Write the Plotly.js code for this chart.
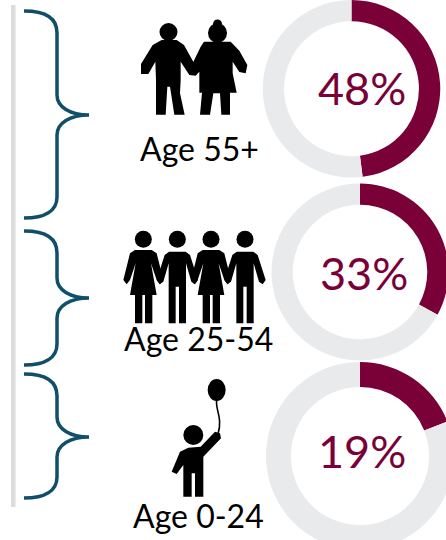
<!DOCTYPE html>
<html>
<head>
<meta charset="utf-8">
<script src="https://cdn.plot.ly/plotly-3.0.1.min.js"></script>
<style>html,body{margin:0;padding:0;background:#fff;overflow:hidden;width:446px;height:540px}#chart{position:absolute;left:0;top:0}</style>
</head>
<body>
<div id="chart"></div>
<script>
// Data
const ageGroups = ["Age 55+", "Age 25-54", "Age 0-24"];
const shares = [48, 33, 19];
const shareLabels = ["48%", "33%", "19%"];

// Styles
const MAROON = "#7a0038", RING = "#e9eaec", TEAL = "#0f4f69", RULE = "#dcdcdc", FONT = "Lato, sans-serif";
// Canvas is a little larger than the window because the lower rings run off its edge
const W = 480, H = 575;
const X = x => x / W, Y = y => 1 - y / H;
const rings = [
  {cx: 351.5, cy: 88.5, r: 89, hole: 0.76},
  {cx: 360, cy: 272, r: 88.5, hole: 0.76},
  {cx: 360, cy: 456, r: 94, hole: 0.735}
];
const shareText = [{x: 361.5, y: 88}, {x: 364, y: 273}, {x: 361.5, y: 451}];
const ageText = [{x: 199, y: 148}, {x: 198, y: 338}, {x: 198, y: 515}];

const traces = rings.map((g, i) => ({
  type: "pie", values: [shares[i], 100 - shares[i]], labels: [ageGroups[i], "Other"],
  sort: false, direction: "clockwise", rotation: 0, hole: g.hole,
  textinfo: "none", hoverinfo: "none", showlegend: false,
  marker: {colors: [MAROON, RING], line: {width: 0}},
  domain: {x: [X(g.cx - g.r), X(g.cx + g.r)], y: [Y(g.cy + g.r), Y(g.cy - g.r)]}
}));

// Path helpers: points in window pixels, or in zoom units (1/3 px) from an origin
const pathOf = pts => pts.map((p, i) => (i ? "L" : "M") + X(p[0]).toFixed(5) + "," + Y(p[1]).toFixed(5)).join(" ") + " Z";
const scaled = (pts, ox, oy) => pts.map(p => [ox + p[0] / 3, oy + p[1] / 3]);
const fillShape = d => ({type: "path", xref: "paper", yref: "paper", path: d, fillcolor: "#000", line: {width: 0}});
const ell = (cx, cy, rx, ry) => ({type: "circle", xref: "paper", yref: "paper", x0: X(cx - rx), x1: X(cx + rx), y0: Y(cy + ry), y1: Y(cy - ry), fillcolor: "#000", line: {width: 0}});

function bracket(t, m, b) {
  const c = (x, y) => X(x).toFixed(5) + "," + Y(y).toFixed(5);
  const d = "M" + c(24, t) + " C" + c(45, t) + " " + c(57, t + 7) + " " + c(57, t + 22) +
    " L" + c(57, m - 20) + " C" + c(57, m - 8) + " " + c(70, m) + " " + c(89, m) +
    " C" + c(70, m) + " " + c(57, m + 8) + " " + c(57, m + 20) +
    " L" + c(57, b - 21) + " C" + c(57, b - 7) + " " + c(45, b) + " " + c(24, b);
  return {type: "path", xref: "paper", yref: "paper", path: d, line: {color: TEAL, width: 3.5}};
}

const man4 = x => [[x-25,80],[x+25,80],[x+38,90],[x+62,165],[x+53,178],[x+42,170],[x+26,115],[x+26,295],[x+5,295],[x+5,185],[x-5,185],[x-5,295],[x-26,295],[x-26,115],[x-42,170],[x-53,178],[x-62,165],[x-38,90]];
const woman4 = x => [[x-25,75],[x+25,75],[x+40,85],[x+60,165],[x+50,178],[x+40,165],[x+23,115],[x+40,210],[x+27,210],[x+27,295],[x+5,295],[x+5,210],[x-3,210],[x-3,295],[x-25,295],[x-25,210],[x-40,210],[x-23,115],[x-40,165],[x-50,178],[x-60,165],[x-40,85]];

const oldMan = [[95,90],[140,90],[162,105],[197,168],[197,197],[178,195],[152,155],[152,210],[150,250],[164,314],[133,314],[120,230],[112,230],[107,314],[78,314],[78,210],[76,155],[55,192],[33,192],[33,162],[68,105]];
const oldWoman = [[222,95],[302,95],[328,122],[352,165],[347,190],[328,186],[308,155],[308,190],[320,248],[300,248],[300,314],[274,314],[270,250],[250,250],[240,314],[210,314],[216,248],[208,248],[208,185],[197,197],[183,170],[212,110]];
const child = [[165,170],[180,175],[183,190],[130,245],[130,365],[105,365],[105,295],[95,295],[95,365],[70,365],[70,270],[50,297],[35,290],[60,230],[85,218],[122,215]];

const shapes = [
  {type: "rect", xref: "paper", yref: "paper", x0: X(11), x1: X(15.5), y0: Y(507), y1: Y(5), fillcolor: RULE, line: {width: 0}},
  bracket(11, 115, 218), bracket(231, 298, 365), bracket(374, 437, 498),
  // older couple
  ell(168.5, 32, 9, 9), fillShape(pathOf(scaled(oldMan, 130, 10))),
  ell(217.5, 33, 9.5, 10), ell(217.5, 24, 4.5, 4.5), fillShape(pathOf(scaled(oldWoman, 130, 10))),
  // four adults
  ...[85, 187, 288, 390].map(x => ell(115 + x / 3, 225 + 43 / 3, 8.5, 8.5)),
  fillShape(pathOf(scaled(woman4(85), 115, 225))), fillShape(pathOf(scaled(man4(187), 115, 225))),
  fillShape(pathOf(scaled(woman4(288), 115, 225))), fillShape(pathOf(scaled(man4(390), 115, 225))),
  // child with balloon
  ell(160 + 100 / 3, 375 + 180 / 3, 10, 10), ell(160 + 170 / 3, 375 + 45 / 3, 9, 11),
  fillShape(pathOf(scaled(child, 160, 375))),
  {type: "path", xref: "paper", yref: "paper",
   path: "M" + X(216.7) + "," + Y(400) + " C" + X(215) + "," + Y(409) + " " + X(223) + "," + Y(418) + " " + X(218) + "," + Y(434),
   line: {color: "#000", width: 1.6}}
];

const annotations = [
  ...shareLabels.map((s, i) => ({text: s, xref: "paper", yref: "paper", x: X(shareText[i].x), y: Y(shareText[i].y), xanchor: "center", yanchor: "middle", showarrow: false, font: {family: FONT, size: 45, color: MAROON}})),
  ...ageGroups.map((s, i) => ({text: s, xref: "paper", yref: "paper", x: X(ageText[i].x), y: Y(ageText[i].y), xanchor: "center", yanchor: "middle", showarrow: false, font: {family: FONT, size: 32, color: "#000"}}))
];

Plotly.newPlot("chart", traces, {
  width: W, height: H, margin: {l: 0, r: 0, t: 0, b: 0},
  paper_bgcolor: "#fff", showlegend: false, shapes, annotations
}, {displayModeBar: false, staticPlot: true});
</script>
</body>
</html>
